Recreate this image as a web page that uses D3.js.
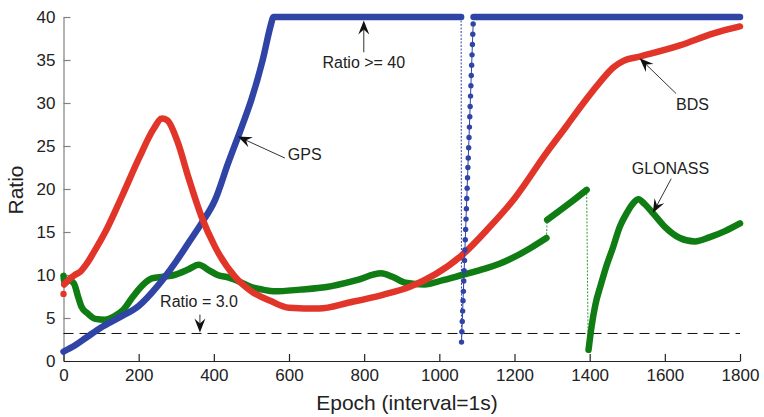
<!DOCTYPE html>
<html lang="en">
<head>
    <style>
        body { margin: 0; background: #fff; }
        text { font-family: "Liberation Sans", Arial, Helvetica, sans-serif; fill: #222; }
    </style>
    <script src="https://d3js.org/d3.v7.min.js"></script>
</head>
<body>
    <svg width="764" height="417"></svg>
    <script>
        // tick labels
        var xTicks = [0, 200, 400, 600, 800, 1000, 1200, 1400, 1600, 1800];
        var yTicks = [0, 5, 10, 15, 20, 25, 30, 35, 40];
        var threshold = 3.2;

        // GPS: rising part, then saturated at 40
        var gpsEpoch = [0, 30, 60, 100, 150, 200, 250, 270, 300, 332, 367, 403, 438, 474, 500, 530, 553, 558, 1058];
        var gpsRatio = [1.1, 1.8, 2.7, 3.9, 5.1, 6.4, 8.7, 9.8, 11.6, 13.7, 16.0, 18.7, 23.0, 27.2, 30.4, 35.0, 39.3, 40, 40];
        // GPS drop and recovery (one point per epoch)
        var gpsDropEpoch = [1059, 1060, 1061, 1062, 1063, 1064, 1065, 1066, 1067, 1068, 1069, 1070, 1071, 1072, 1073, 1074,
                            1075, 1076, 1077, 1078, 1079, 1080, 1081, 1082, 1083, 1084, 1085, 1086, 1087, 1088, 1089, 1090];
        var gpsDropRatio = [2.2, 3.4, 4.6, 5.8, 7.0, 8.1, 9.3, 10.5, 11.7, 12.9, 14.1, 15.3, 16.5, 17.7, 18.9, 20.1,
                            21.3, 22.5, 23.6, 24.8, 26.0, 27.2, 28.4, 29.6, 30.8, 32.0, 33.2, 34.4, 35.6, 36.8, 38.0, 39.2];
        var gpsTailEpoch = [1091, 1800];
        var gpsTailRatio = [40, 40];

        // BDS
        var bdsFirstEpoch = [0];
        var bdsFirstRatio = [7.8];
        var bdsEpoch = [2, 15, 30, 45, 60, 80, 110, 155, 200, 240, 262, 276, 305, 332, 367, 403, 456, 500, 550, 600, 680,
                        760, 850, 920, 990, 1060, 1130, 1200, 1285, 1338, 1380, 1427, 1462, 1490, 1533, 1640, 1730, 1800];
        var bdsRatio = [8.9, 9.5, 10.0, 10.4, 11.2, 12.6, 14.9, 19.1, 23.5, 27.0, 28.2, 28.0, 25.3, 21.4, 16.8, 13.3, 9.8, 8.1, 7.0, 6.2, 6.1,
                        6.8, 7.7, 8.6, 10.1, 12.3, 15.4, 18.9, 24.2, 27.3, 29.8, 32.4, 34.1, 34.9, 35.4, 36.7, 38.1, 38.9];

        // GLONASS, three pieces
        var glo1Epoch = [0, 3, 15, 28, 38, 48, 65, 85, 110, 135, 160, 185, 210, 235, 265, 295, 330, 360, 385, 410, 440, 470,
                         500, 530, 560, 630, 700, 780, 845, 875, 910, 960, 1010, 1060, 1110, 1160, 1200, 1245, 1285];
        var glo1Ratio = [9.9, 9.1, 9.4, 9.0, 7.6, 6.3, 5.5, 4.9, 4.8, 5.2, 6.0, 7.5, 8.8, 9.6, 9.8, 10.0, 10.6, 11.2, 10.6, 10.0, 9.7, 9.2,
                         8.6, 8.3, 8.1, 8.3, 8.6, 9.4, 10.2, 9.8, 9.1, 8.9, 9.4, 10.0, 10.6, 11.3, 12.1, 13.2, 14.3];
        var glo2Epoch = [1287, 1330, 1360, 1392];
        var glo2Ratio = [16.4, 17.8, 18.8, 19.9];
        var glo3Epoch = [1397, 1405, 1415, 1430, 1445, 1462, 1480, 1500, 1515, 1530, 1545, 1570, 1600, 1640, 1680, 1720, 1760, 1800];
        var glo3Ratio = [1.3, 4.0, 6.5, 8.9, 11.1, 13.2, 15.6, 17.3, 18.3, 18.8, 18.3, 17.1, 15.6, 14.3, 13.9, 14.4, 15.1, 16.0];

        var blue = "#3044a6", red = "#e2352a", green = "#0f7d14";

        var svg = d3.select("svg");
        var x = d3.scaleLinear().domain([0, 1800]).range([63.5, 740]);
        var y = d3.scaleLinear().domain([0, 40]).range([361, 17]);

        function pts(ex, ry) {
            return ex.map(function(e, i) { return [e, ry[i]]; });
        }

        var line = d3.line()
            .x(function(d) { return x(d[0]); })
            .y(function(d) { return y(d[1]); })
            .curve(d3.curveMonotoneX);

        var straight = d3.line()
            .x(function(d) { return x(d[0]); })
            .y(function(d) { return y(d[1]); });

        function thick(data, color) {
            svg.append("path")
                .datum(data)
                .attr("fill", "none")
                .attr("stroke", color)
                .attr("stroke-width", 6.5)
                .attr("stroke-linecap", "round")
                .attr("stroke-linejoin", "round")
                .attr("d", line);
        }

        function dotted(data, color) {
            svg.append("path")
                .datum(data)
                .attr("fill", "none")
                .attr("stroke", color)
                .attr("stroke-width", 1)
                .attr("stroke-dasharray", "2,1.5")
                .attr("d", straight);
        }

        // axes
        svg.append("g")
            .attr("transform", "translate(" + x(0) + ",0)")
            .call(d3.axisLeft(y).tickValues(yTicks).tickFormat(d3.format("d"))
                .tickSizeInner(-7).tickSizeOuter(0).tickPadding(8))
            .call(function(g) {
                g.selectAll("line, path").attr("stroke", "#808080").attr("stroke-width", 1.2);
                g.selectAll("text").attr("font-size", "17px").attr("fill", "#222")
                    .attr("font-family", "Liberation Sans, Arial, sans-serif");
            });

        svg.append("g")
            .attr("transform", "translate(0," + y(0) + ")")
            .call(d3.axisBottom(x).tickValues(xTicks).tickFormat(d3.format("d"))
                .tickSizeInner(-7).tickSizeOuter(0).tickPadding(8))
            .call(function(g) {
                g.selectAll("line, path").attr("stroke", "#222").attr("stroke-width", 1.2);
                g.selectAll("text").attr("font-size", "17px").attr("fill", "#222")
                    .attr("font-family", "Liberation Sans, Arial, sans-serif");
            });

        svg.append("text")
            .attr("x", 407)
            .attr("y", 410)
            .attr("text-anchor", "middle")
            .attr("font-size", "21px")
            .text("Epoch (interval=1s)");

        svg.append("text")
            .attr("transform", "translate(23,190) rotate(-90)")
            .attr("text-anchor", "middle")
            .attr("font-size", "21px")
            .text("Ratio");

        // threshold line
        svg.append("line")
            .attr("x1", x(0)).attr("x2", x(1800))
            .attr("y1", y(threshold)).attr("y2", y(threshold))
            .attr("stroke", "#111")
            .attr("stroke-width", 1)
            .attr("stroke-dasharray", "10,6");

        // connectors between GLONASS pieces and GPS break
        dotted([[1285, 14.3], [1287, 16.4]], "#2f9a34");
        dotted([[1392, 19.9], [1396, 1.3]], "#2f9a34");
        dotted([[1058, 40], [1059, 2.2]], blue);

        // series
        thick(pts(glo1Epoch, glo1Ratio), green);
        thick(pts(glo2Epoch, glo2Ratio), green);
        thick(pts(glo3Epoch, glo3Ratio), green);

        thick(pts(gpsEpoch, gpsRatio), blue);
        thick(pts(gpsTailEpoch, gpsTailRatio), blue);

        thick(pts(bdsEpoch, bdsRatio), red);
        svg.selectAll(".bdsFirst")
            .data(pts(bdsFirstEpoch, bdsFirstRatio))
            .enter().append("circle")
            .attr("cx", function(d) { return x(d[0]); })
            .attr("cy", function(d) { return y(d[1]); })
            .attr("r", 3.2)
            .attr("fill", red);

        var drop = pts(gpsDropEpoch, gpsDropRatio);
        svg.append("path")
            .datum(drop)
            .attr("fill", "none")
            .attr("stroke", blue)
            .attr("stroke-width", 1)
            .attr("d", straight);
        svg.selectAll(".gpsDrop")
            .data(drop)
            .enter().append("circle")
            .attr("cx", function(d) { return x(d[0]); })
            .attr("cy", function(d) { return y(d[1]); })
            .attr("r", 2.7)
            .attr("fill", blue);

        // annotations with arrows
        function arrow(tail, tip) {
            var x1 = x(tail[0]), y1 = y(tail[1]), x2 = x(tip[0]), y2 = y(tip[1]);
            var a = Math.atan2(y2 - y1, x2 - x1);
            var L = 14, W = 5.5, N = 9;
            var ca = Math.cos(a), sa = Math.sin(a);
            svg.append("line")
                .attr("x1", x1).attr("y1", y1)
                .attr("x2", x2 - ca * N).attr("y2", y2 - sa * N)
                .attr("stroke", "#333")
                .attr("stroke-width", 1);
            var p = [
                [x2, y2],
                [x2 - ca * L - sa * W, y2 - sa * L + ca * W],
                [x2 - ca * N, y2 - sa * N],
                [x2 - ca * L + sa * W, y2 - sa * L - ca * W]
            ];
            svg.append("path")
                .attr("d", "M" + p.map(function(q) { return q.join(","); }).join("L") + "Z")
                .attr("fill", "#111");
        }

        function label(e, r, txt, anchor) {
            svg.append("text")
                .attr("x", x(e))
                .attr("y", y(r))
                .attr("text-anchor", anchor)
                .attr("font-size", "16px")
                .text(txt);
        }

        arrow([799, 35.9], [799, 39.6]);
        label(799, 34.1, "Ratio >= 40", "middle");

        arrow([589, 23.6], [464, 26.1]);
        label(597, 23.4, "GPS", "start");

        arrow([1630, 31.1], [1533, 35.2]);
        label(1630, 29.2, "BDS", "start");

        arrow([1617, 21.2], [1568, 17.2]);
        label(1512, 21.8, "GLONASS", "start");

        arrow([363, 5.4], [363, 3.3]);
        label(257, 6.3, "Ratio = 3.0", "start");
    </script>
</body>
</html>
